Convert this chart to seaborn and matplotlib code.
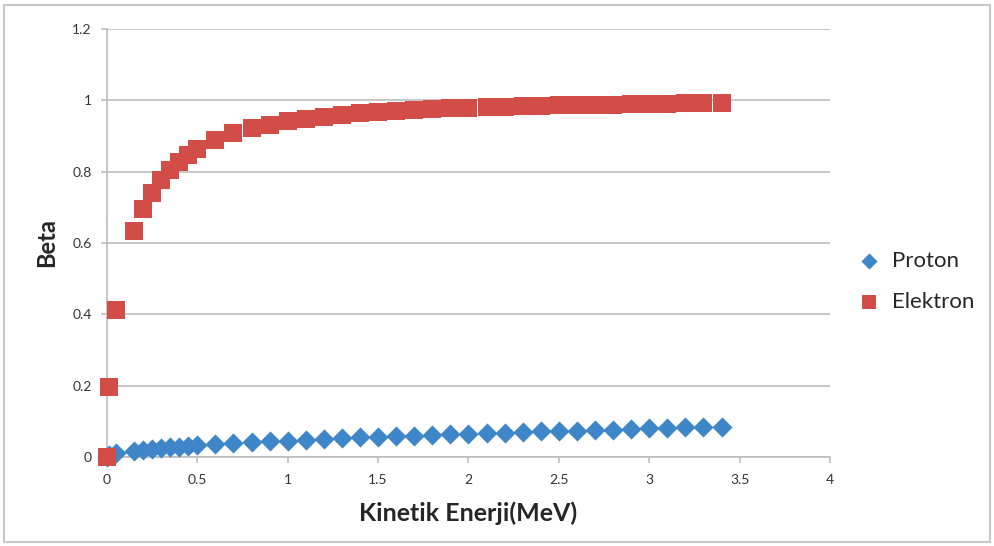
import pandas as pd
import seaborn as sns
import matplotlib.pyplot as plt
from matplotlib.patches import Rectangle
from matplotlib.ticker import FuncFormatter

# kinetic energy (MeV) of the points
energy = [0, 0.01, 0.05, 0.15, 0.2, 0.25, 0.3, 0.35, 0.4, 0.45,
          0.5, 0.6, 0.7, 0.8, 0.9, 1.0, 1.1, 1.2, 1.3, 1.4,
          1.5, 1.6, 1.7, 1.8, 1.9, 2.0, 2.1, 2.2, 2.3, 2.4,
          2.5, 2.6, 2.7, 2.8, 2.9, 3.0, 3.1, 3.2, 3.3, 3.4]

beta_proton = [0, 0.005, 0.010, 0.018, 0.021, 0.023, 0.025, 0.027, 0.029, 0.031,
               0.033, 0.036, 0.039, 0.041, 0.044, 0.046, 0.048, 0.051, 0.053, 0.055,
               0.057, 0.058, 0.060, 0.062, 0.064, 0.065, 0.067, 0.068, 0.070, 0.072,
               0.073, 0.074, 0.076, 0.077, 0.079, 0.080, 0.081, 0.083, 0.084, 0.085]

beta_elektron = [0, 0.195, 0.413, 0.634, 0.695, 0.741, 0.777, 0.805, 0.828, 0.847,
                 0.863, 0.888, 0.907, 0.921, 0.932, 0.941, 0.948, 0.954, 0.960, 0.964,
                 0.967, 0.970, 0.973, 0.975, 0.977, 0.979, 0.981, 0.982, 0.983, 0.985,
                 0.986, 0.986, 0.987, 0.988, 0.989, 0.989, 0.990, 0.991, 0.991, 0.991]

x_ticks = [0, 0.5, 1, 1.5, 2, 2.5, 3, 3.5, 4]
y_ticks = [0, 0.2, 0.4, 0.6, 0.8, 1, 1.2]

sns.set_style('white')
plt.rcParams['font.family'] = ['Lato', 'DejaVu Sans']

dfProton = pd.DataFrame({'energy': energy, 'beta': beta_proton})
dfElektron = pd.DataFrame({'energy': energy, 'beta': beta_elektron})

fig = plt.figure(figsize=(9.94, 5.46), dpi=100)
ax = fig.add_axes([0.1076, 0.163, 0.7274, 0.784])

sns.scatterplot(data=dfProton, x='energy', y='beta', ax=ax, marker='D', s=105,
                color='#3f86c9', linewidth=0, label='Proton', zorder=3, clip_on=False)
sns.scatterplot(data=dfElektron, x='energy', y='beta', ax=ax, marker='s', s=170,
                color='#d24d47', linewidth=0, label='Elektron', zorder=4, clip_on=False)

ax.set_xlim(0, 4)
ax.set_ylim(0, 1.2)
ax.set_xticks(x_ticks)
ax.set_yticks(y_ticks)
fmt = FuncFormatter(lambda v, p: f'{v:g}')
ax.xaxis.set_major_formatter(fmt)
ax.yaxis.set_major_formatter(fmt)

ax.grid(axis='y', color='#bdbdbd', linewidth=1.2)
ax.set_axisbelow(True)
for side in ['top', 'right']:
    ax.spines[side].set_visible(False)
for side in ['left', 'bottom']:
    ax.spines[side].set_color('#bdbdbd')
    ax.spines[side].set_linewidth(1.2)
ax.tick_params(axis='both', which='major', length=4, width=1.2, color='#bdbdbd',
               labelsize=10, labelcolor='#333333', direction='out', bottom=True, left=True)
ax.tick_params(axis='x', pad=8)
ax.tick_params(axis='y', pad=7)

ax.set_xlabel('Kinetik Enerji(MeV)', fontsize=18, fontweight='bold', labelpad=11)
ax.set_ylabel('Beta', fontsize=17, fontweight='bold', labelpad=10)

leg = ax.legend(loc='center left', bbox_to_anchor=(0.995, 0.41), frameon=False,
                fontsize=16, handletextpad=0.05, labelspacing=0.95, markerscale=0.8)

fig.patches.append(Rectangle((0.004, 0.008), 0.992, 0.982, transform=fig.transFigure,
                             fill=False, edgecolor='#c8c8c8', linewidth=1.5))

plt.savefig('out.png', dpi=100)
